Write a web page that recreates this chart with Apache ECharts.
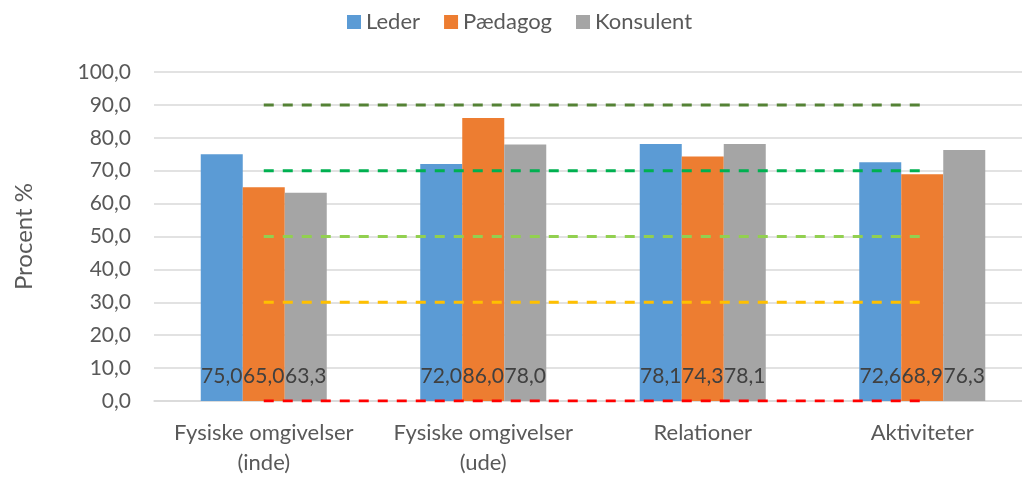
<!DOCTYPE html>
<html>
<head>
<meta charset="utf-8">
<script src="https://cdn.jsdelivr.net/npm/echarts@6/dist/echarts.min.js"></script>
<style>
  html, body { margin: 0; padding: 0; background: #fff; }
  #chart { width: 1022px; height: 478px; }
</style>
</head>
<body>
<div id="chart"></div>
<script>
// data
var categories = ['Fysiske omgivelser\n(inde)', 'Fysiske omgivelser\n(ude)', 'Relationer', 'Aktiviteter']
var leder = [75.0, 72.0, 78.1, 72.6]
var paedagog = [65.0, 86.0, 74.3, 68.9]
var konsulent = [63.3, 78.0, 78.1, 76.3]
// dashed reference levels
var level90 = [90, 90, 90, 90]
var level70 = [70, 70, 70, 70]
var level50 = [50, 50, 50, 50]
var level30 = [30, 30, 30, 30]
var level0 = [0, 0, 0, 0]

var font = 'Lato, "Open Sans", sans-serif'
var fmt = function(v) { return v.toFixed(1).replace('.', ',') }

function barSeries(name, data, color) {
  return {
    name: name,
    type: 'bar',
    data: data,
    barWidth: 42,
    barGap: '0%',
    itemStyle: { color: color },
    label: {
      show: true,
      position: 'insideBottom',
      distance: 14,
      fontFamily: font,
      fontSize: 21,
      color: '#404040',
      formatter: function(p) { return fmt(p.value) }
    }
  }
}

function levelLine(data, color) {
  return {
    type: 'line',
    data: data,
    symbol: 'none',
    silent: true,
    z: 5,
    lineStyle: { color: color, width: 3, type: [10, 9] }
  }
}

var chart = echarts.init(document.getElementById('chart'))
chart.setOption({
  animation: false,
  textStyle: { fontFamily: font },
  legend: {
    data: ['Leder', 'Pædagog', 'Konsulent'],
    top: 6,
    left: 342,
    itemWidth: 14,
    itemHeight: 14,
    itemGap: 24,
    icon: 'rect',
    textStyle: { fontFamily: font, fontSize: 22, color: '#595959' }
  },
  grid: { left: 154, top: 72, width: 878, bottom: 77, outerBoundsMode: 'none' },
  xAxis: {
    type: 'category',
    data: categories,
    axisTick: { show: false },
    axisLine: { lineStyle: { color: '#d9d9d9', width: 1.5 } },
    axisLabel: {
      interval: 0,
      hideOverlap: false,
      fontFamily: font,
      fontSize: 22,
      color: '#595959',
      lineHeight: 30,
      margin: 17
    }
  },
  yAxis: {
    type: 'value',
    min: 0,
    max: 100,
    interval: 10,
    name: 'Procent %',
    nameLocation: 'middle',
    nameGap: 118,
    nameTextStyle: { fontFamily: font, fontSize: 24, color: '#595959' },
    axisLine: { show: false },
    axisTick: { show: false },
    splitLine: { lineStyle: { color: '#d9d9d9', width: 1.5 } },
    axisLabel: {
      fontFamily: font,
      fontSize: 21,
      color: '#595959',
      margin: 23,
      formatter: fmt
    }
  },
  series: [
    barSeries('Leder', leder, '#5b9bd5'),
    barSeries('Pædagog', paedagog, '#ed7d31'),
    barSeries('Konsulent', konsulent, '#a5a5a5'),
    levelLine(level90, '#548235'),
    levelLine(level70, '#00b050'),
    levelLine(level50, '#92d050'),
    levelLine(level30, '#ffc000'),
    levelLine(level0, '#ff0000')
  ]
})
</script>
</body>
</html>
